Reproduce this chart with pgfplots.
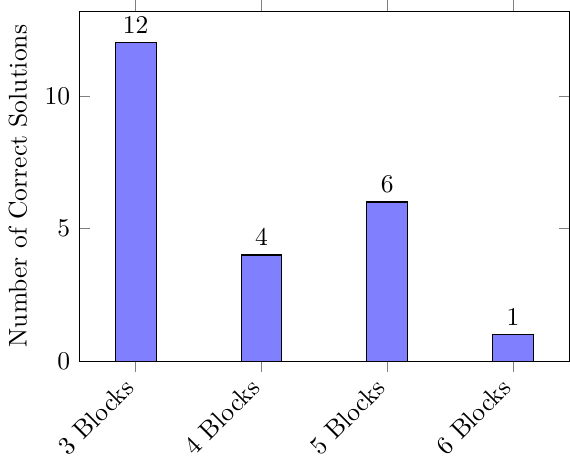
\documentclass[border=0pt]{standalone}
\usepackage{pgfplots}
\pgfplotsset{compat=1.18}
\begin{document}
\begin{tikzpicture}
\begin{axis}[
  scale only axis,
  width=192pt, height=137pt,
  ybar, bar width=16pt,
  ymin=0, ymax=13.2,
  xmin=-0.45, xmax=3.45,
  xtick=data,
  xticklabels={3 Blocks,4 Blocks,5 Blocks,6 Blocks},
  x tick label style={yshift=-2pt, rotate=45, anchor=east},
  ytick={0,5,10},
  ylabel={Number of Correct Solutions},
  nodes near coords,
]
\addplot[fill=blue!50, draw=black] coordinates {(0,12) (1,4) (2,6) (3,1)};
\end{axis}
\end{tikzpicture}
\end{document}
